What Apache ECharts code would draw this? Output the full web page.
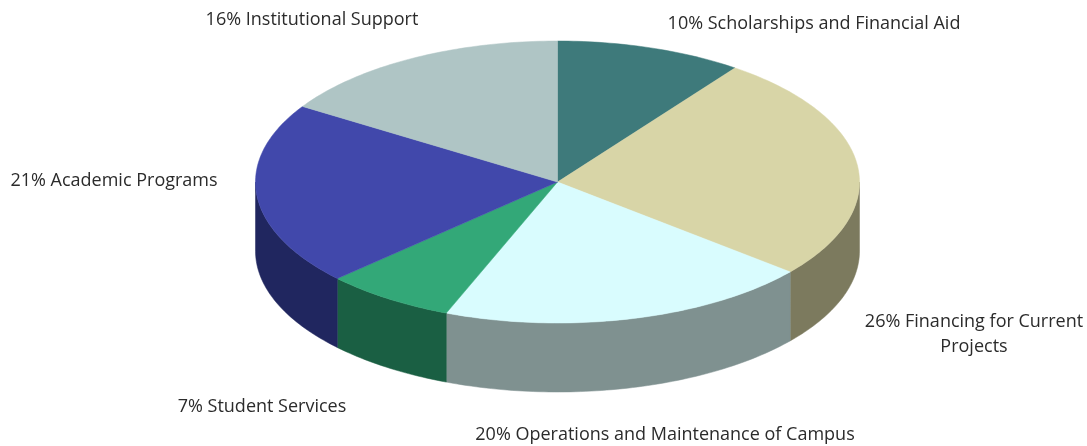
<!DOCTYPE html>
<html>
<head>
<meta charset="utf-8">
<title>Expenses pie</title>
<script src="https://cdn.jsdelivr.net/npm/echarts@6/dist/echarts.min.js"></script>
<style>
  html, body { margin: 0; padding: 0; background: #fff; }
  #chart { width: 1087px; height: 446px; }
</style>
</head>
<body>
<div id="chart"></div>
<script>
// clockwise from 12 o'clock
const categories = [
  'Scholarships and Financial Aid',
  'Financing for Current\nProjects',
  'Operations and Maintenance of Campus',
  'Student Services',
  'Academic Programs',
  'Institutional Support'
];
const shares = [10, 26, 20, 7, 21, 16];

const topColors = ['#3e7a7b', '#d8d5a7', '#d9fcfe', '#33a878', '#4148ab', '#afc5c5'];
const sideColors = ['#2a5253', '#7c7a5e', '#7f9190', '#1a5f43', '#20265f', '#76898a'];

// label centres, px
const labelPos = [[814, 24], [974, 334], [665, 435], [262, 407], [114, 181], [312, 20]];

// pie geometry, px
const cx = 557.5, cy = 182, rx = 302, ry = 141, depth = 69;
const total = shares.reduce((a, b) => a + b, 0);

function rimPoint(deg, dy) {
  const a = deg * Math.PI / 180;
  return [cx + rx * Math.sin(a), cy - ry * Math.cos(a) + dy];
}

function renderSlice(params, api) {
  const i = params.dataIndex;
  let before = 0;
  for (let k = 0; k < i; k++) before += shares[k];
  const start = before / total * 360;
  const end = (before + api.value(0)) / total * 360;

  const rim = [];
  for (let d = start; d < end; d += 1) rim.push(rimPoint(d, 0));
  rim.push(rimPoint(end, 0));

  const children = [];

  // only the front half of the rim has a visible wall
  const s = Math.max(start, 90), e = Math.min(end, 270);
  if (e > s) {
    const upper = [], lower = [];
    for (let d = s; d < e; d += 1) {
      upper.push(rimPoint(d, 0));
      lower.push(rimPoint(d, depth));
    }
    upper.push(rimPoint(e, 0));
    lower.push(rimPoint(e, depth));
    children.push({
      type: 'polygon',
      shape: { points: upper.concat(lower.reverse()) },
      style: { fill: sideColors[i], stroke: sideColors[i], lineWidth: 0.5 }
    });
  }

  children.push({
    type: 'polygon',
    shape: { points: [[cx, cy]].concat(rim) },
    style: { fill: topColors[i], stroke: topColors[i], lineWidth: 0.5 }
  });

  children.push({
    type: 'text',
    x: labelPos[i][0],
    y: labelPos[i][1],
    style: {
      text: api.value(0) + '% ' + categories[i],
      fill: '#2b2b2b',
      font: '18px "Open Sans"',
      align: 'center',
      verticalAlign: 'middle',
      lineHeight: 25
    }
  });

  return { type: 'group', children: children };
}

const chart = echarts.init(document.getElementById('chart'));
chart.setOption({
  animation: false,
  backgroundColor: '#fff',
  series: [{
    type: 'custom',
    coordinateSystem: 'none',
    renderItem: renderSlice,
    data: shares.map(v => [v])
  }]
});
</script>
</body>
</html>
